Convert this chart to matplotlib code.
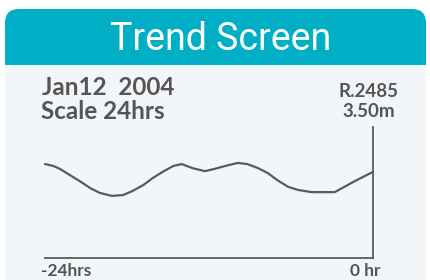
import matplotlib
matplotlib.use("Agg")
import matplotlib.pyplot as plt
from matplotlib.patches import FancyBboxPatch, Rectangle

# ---- data ----
hours = [-24.0, -23.4, -22.9, -22.2, -21.4, -20.7, -20.0, -19.1, -18.3, -17.6, -16.8,
         -16.1, -15.4, -14.6, -14.0, -13.2, -12.3, -11.6, -10.8, -9.9, -9.2, -8.4,
         -7.7, -7.0, -6.2, -5.5, -4.5, -3.5, -2.8, -2.1, -1.3, -0.6, 0.0]
level_m = [2.51, 2.46, 2.38, 2.22, 2.04, 1.87, 1.74, 1.66, 1.68, 1.79, 1.95,
           2.14, 2.30, 2.46, 2.51, 2.40, 2.32, 2.38, 2.46, 2.54, 2.51, 2.40,
           2.27, 2.08, 1.90, 1.82, 1.76, 1.76, 1.76, 1.90, 2.06, 2.19, 2.30]
title = "Trend Screen"
date_label = "Jan12  2004"
scale_label = "Scale 24hrs"
ref_label = "R.2485"
range_label = "3.50m"
x_start_label = "-24hrs"
x_end_label = "0 hr"
y_max = 3.5

W, H = 430, 280
fig = plt.figure(figsize=(W / 100, H / 100), dpi=100)
fig.patch.set_facecolor("white")

bg = fig.add_axes([0, 0, 1, 1])
bg.set_xlim(0, W)
bg.set_ylim(H, 0)
bg.axis("off")

teal = "#00AFC6"
body = "#F3F6F9"
ink = "#555555"

card = FancyBboxPatch((5, 9), 421, 320, boxstyle="round,pad=0,rounding_size=14",
                      facecolor=teal, edgecolor="none")
bg.add_patch(card)
bg.add_patch(Rectangle((5, 65), 421, 260, facecolor=body, edgecolor="none"))

bg.text(221, 50, title, ha="center", va="baseline", color="white",
        fontsize=27, family="Roboto", fontweight="normal")
bold = dict(family="Lato", fontweight="bold", color=ink)
bg.text(42, 95, date_label, ha="left", va="baseline", fontsize=17.5, **bold)
bg.text(41, 119, scale_label, ha="left", va="baseline", fontsize=17.5, **bold)
bg.text(369, 97, ref_label, ha="center", va="baseline", fontsize=13.5, **bold)
bg.text(369, 117, range_label, ha="center", va="baseline", fontsize=13.5, **bold)
bg.text(41, 276, x_start_label, ha="left", va="baseline", fontsize=12.5, **bold)
bg.text(381, 276, x_end_label, ha="right", va="baseline", fontsize=12.5, **bold)

ax = fig.add_axes([45 / W, 1 - 258 / H, (373 - 45) / W, (258 - 127) / H])
ax.patch.set_alpha(0)
ax.set_xlim(hours[0], hours[-1])
ax.set_ylim(0, y_max)
line_c = "#5A5A5A"
ax.plot(hours, level_m, color=line_c, lw=1.6, solid_joinstyle="round",
        solid_capstyle="round", clip_on=False)
for s in ("left", "top"):
    ax.spines[s].set_visible(False)
for s in ("right", "bottom"):
    ax.spines[s].set_color(line_c)
    ax.spines[s].set_linewidth(1.3)
ax.set_xticks([])
ax.set_yticks([])

fig.savefig("out.png", dpi=100)
